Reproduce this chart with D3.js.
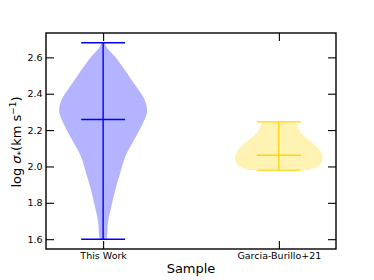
<!DOCTYPE html>
<html>
<head>
<meta charset="utf-8">
<script src="https://cdn.jsdelivr.net/npm/d3@7"></script>
<style>
  body { margin: 0; background: #fff; }
  svg { display: block; font-family: "DejaVu Sans", sans-serif; }
</style>
</head>
<body>
<script>
// categories and summary values
const categories = ["This Work", "Garcia-Burillo+21"];
const positions = [1, 2];
const mins = [1.60, 1.98];
const maxs = [2.68, 2.245];
const means = [2.258, 2.062];
const fillColors = ["#b3b3ff", "#fff3b3"];
const lineColors = ["#0000ff", "#ffd700"];
const yTicks = [1.6, 1.8, 2.0, 2.2, 2.4, 2.6];

// violin outlines: [value, half width relative to widest point]
const profileThisWork = [
  [1.600, 0.07], [1.618, 0.09], [1.692, 0.11], [1.783, 0.19], [1.874, 0.28],
  [1.966, 0.39], [2.057, 0.51], [2.160, 0.74], [2.251, 0.93], [2.300, 1.0],
  [2.342, 0.98], [2.379, 0.92], [2.434, 0.77], [2.471, 0.66], [2.525, 0.51],
  [2.562, 0.40], [2.598, 0.29], [2.635, 0.15], [2.660, 0.07], [2.680, 0.04]
];
const profileGarcia = [
  [1.980, 0.66], [1.990, 0.80], [2.005, 0.92], [2.025, 0.98], [2.048, 1.0],
  [2.084, 0.95], [2.121, 0.81], [2.150, 0.66], [2.176, 0.54], [2.200, 0.46],
  [2.231, 0.40], [2.245, 0.38]
];
const profiles = [profileThisWork, profileGarcia];

const width = 374, height = 280;
const margin = { left: 46, right: 38, top: 33, bottom: 31 };
const halfWidth = 0.25, capHalf = 0.125;

const svg = d3.select("body").append("svg")
  .attr("width", width)
  .attr("height", height);

const x = d3.scaleLinear().domain([0.675, 2.325]).range([margin.left, width - margin.right]);
const y = d3.scaleLinear().domain([1.546, 2.734]).range([height - margin.bottom, margin.top]);

// violin bodies
profiles.forEach((prof, i) => {
  const p = positions[i];
  const area = d3.area()
    .y(d => y(d[0]))
    .x0(d => x(p - d[1] * halfWidth))
    .x1(d => x(p + d[1] * halfWidth))
    .curve(d3.curveCatmullRom);
  svg.append("path")
    .datum(prof)
    .attr("d", area)
    .attr("fill", fillColors[i]);
});

// stems, caps and mean lines
positions.forEach((p, i) => {
  const g = svg.append("g")
    .attr("stroke", lineColors[i])
    .attr("stroke-width", 1.4);
  g.append("line")
    .attr("x1", x(p)).attr("x2", x(p))
    .attr("y1", y(mins[i])).attr("y2", y(maxs[i]));
  [mins[i], maxs[i], means[i]].forEach(v => {
    g.append("line")
      .attr("x1", x(p - capHalf)).attr("x2", x(p + capHalf))
      .attr("y1", y(v)).attr("y2", y(v));
  });
});

// axes, ticks pointing inward
const fontSize = 9.5;
const styleAxis = g => {
  g.select(".domain").remove();
  g.selectAll(".tick line").attr("stroke", "#000").attr("stroke-width", 1.1);
  g.selectAll(".tick text").attr("fill", "#000").style("font-size", fontSize + "px")
    .style("font-family", "DejaVu Sans, sans-serif");
};

svg.append("g")
  .attr("transform", `translate(${margin.left},0)`)
  .call(d3.axisLeft(y).tickValues(yTicks).tickFormat(d3.format(".1f")).tickSize(-8).tickPadding(3.5))
  .call(styleAxis);

svg.append("g")
  .attr("transform", `translate(${width - margin.right},0)`)
  .call(d3.axisRight(y).tickValues(yTicks).tickFormat("").tickSize(-8))
  .call(styleAxis);

svg.append("g")
  .attr("transform", `translate(0,${height - margin.bottom})`)
  .call(d3.axisBottom(x).tickValues(positions).tickFormat((d, i) => categories[i]).tickSize(-8).tickPadding(3))
  .call(styleAxis);

svg.append("g")
  .attr("transform", `translate(0,${margin.top})`)
  .call(d3.axisTop(x).tickValues(positions).tickFormat("").tickSize(-8))
  .call(styleAxis);

// frame
svg.append("rect")
  .attr("x", margin.left).attr("y", margin.top)
  .attr("width", width - margin.left - margin.right)
  .attr("height", height - margin.top - margin.bottom)
  .attr("fill", "none")
  .attr("stroke", "#000")
  .attr("stroke-width", 1.4);

// axis titles
svg.append("text")
  .attr("x", (margin.left + width - margin.right) / 2)
  .attr("y", 273)
  .attr("text-anchor", "middle")
  .style("font-size", "13px")
  .text("Sample");

const yl = svg.append("text")
  .attr("transform", "translate(21,142) rotate(-90)")
  .attr("text-anchor", "middle")
  .style("font-size", "13px");
yl.append("tspan").text("log ");
yl.append("tspan").style("font-style", "italic").text("σ");
yl.append("tspan").attr("dy", 3).style("font-size", "9px").text("*");
yl.append("tspan").attr("dy", -3).text("(km s");
yl.append("tspan").attr("dy", -5).style("font-size", "9px").text("−1");
yl.append("tspan").attr("dy", 5).text(")");
</script>
</body>
</html>
